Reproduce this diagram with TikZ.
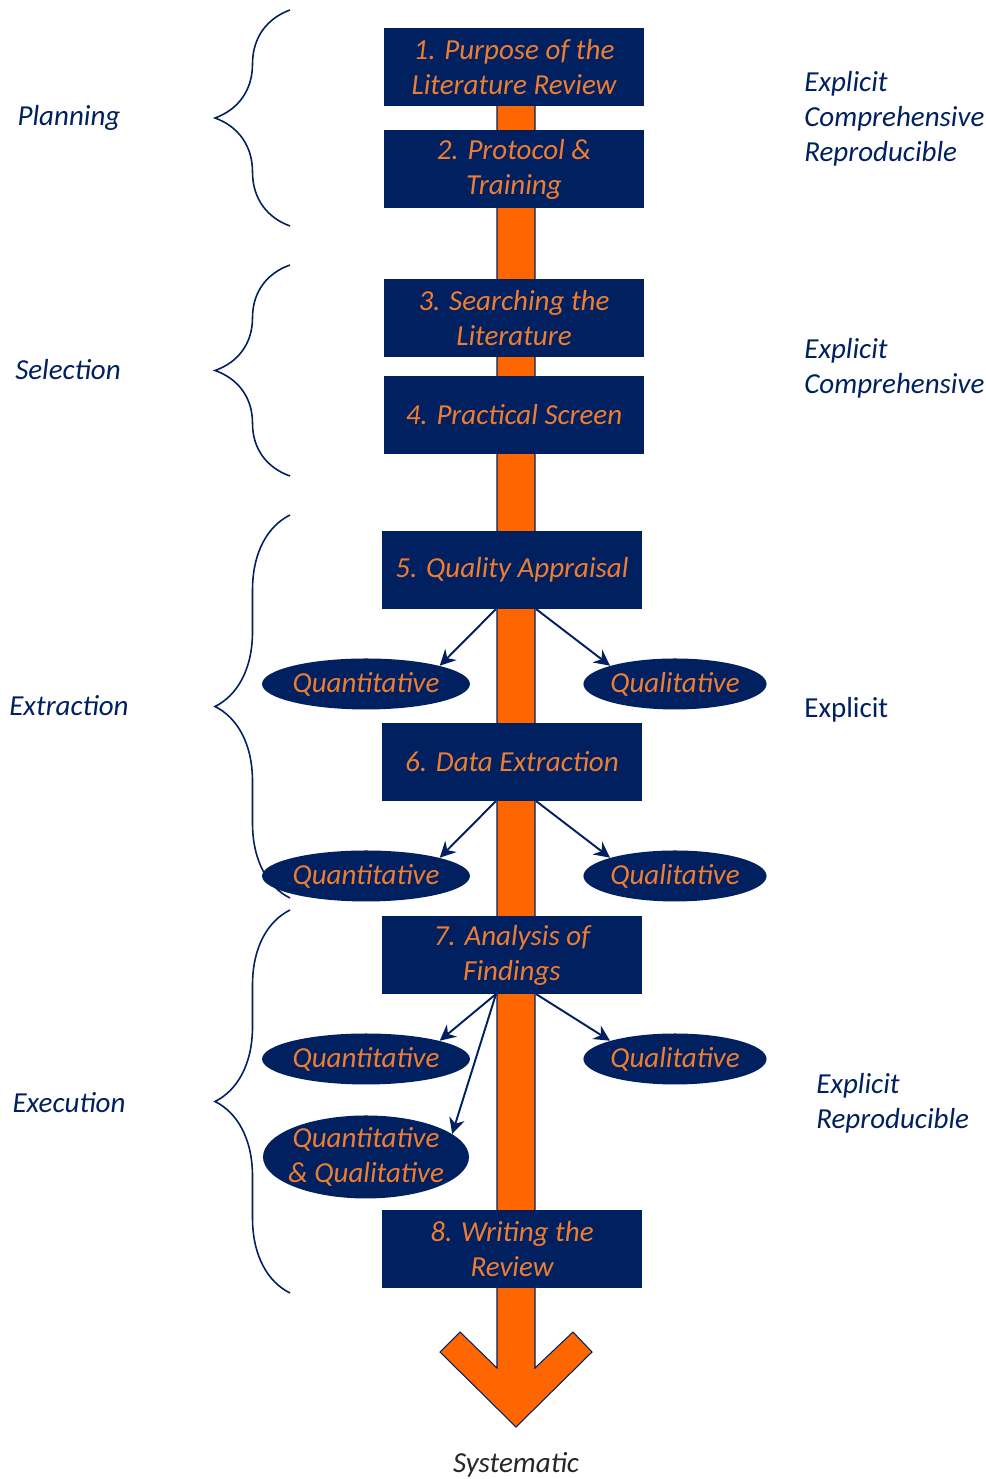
\documentclass[tikz,border=0pt]{standalone}
\usepackage{fontspec}
\setmainfont{Carlito}
\usetikzlibrary{shapes.geometric,arrows.meta,positioning,decorations.pathreplacing}
\definecolor{navy}{HTML}{002060}
\definecolor{barorange}{HTML}{FF6600}
\definecolor{txtorange}{HTML}{ED7D31}
\definecolor{sysgray}{HTML}{262626}
\newcommand{\labelfont}{\fontsize{16.5}{20}\selectfont}

\begin{document}
\begin{tikzpicture}[
    x=0.02cm, y=-0.02cm,
    % --- STYLES ---
    stage/.style={
        rectangle, fill=navy, draw=none,
        minimum width=5.2cm,
        minimum height=1.56cm,
        align=center, text=txtorange,
        font=\itshape\labelfont,
        inner sep=2pt, outer sep=0pt
    },
    kind/.style={
        ellipse, fill=navy, draw=none,
        text=txtorange, font=\itshape\labelfont,
        inner sep=0pt, minimum height=1.02cm
    },
    phase/.style={text=navy, font=\itshape\labelfont, inner sep=0pt},
    quality/.style={text=navy, font=\itshape\labelfont, align=left, anchor=west, inner sep=0pt},
    branch/.style={-{Stealth[length=9pt,width=9pt]}, draw=navy, line width=1.1pt},
    grouping/.style={decorate, decoration={brace, amplitude=1.5cm}, draw=navy, line width=0.9pt},
    spine/.style={fill=barorange, draw=navy, line width=0.6pt}
]
\useasboundingbox (0,0) rectangle (986,1479);

% ===== 1. COORDINATES =====
\def\xQuan{366}
\def\xQual{675}

% ===== 2. ORANGE SPINE =====
\draw[spine] (497,100) -- (497,1368) -- (460,1332) -- (440,1352) -- (516,1427)
    -- (592,1352) -- (573,1332) -- (535,1368) -- (535,100) -- cycle;

% ===== 3. STAGES =====
\node[stage] (p1) at (514,67) {1. Purpose of the\\ Literature Review};
\node[stage] (p2) at (514,169) {2. Protocol \&\\ Training};
\node[stage] (p3) at (514,318) {3. Searching the\\ Literature};
\node[stage] (p4) at (514,415) {4. Practical Screen};
\node[stage] (p5) at (512,570) {5. Quality Appraisal};
\node[stage] (p6) at (512,762) {6. Data Extraction};
\node[stage] (p7) at (512,955) {7. Analysis of\\ Findings};
\node[stage] (p8) at (512,1249) {8. Writing the\\ Review};

% ===== 4. METHOD ELLIPSES =====
\node[kind, minimum width=4.08cm] (quan5) at (\xQuan, 0 |- p5.south) [yshift=-1.5cm] {Quantitative};
\node[kind, minimum width=3.48cm] (qual5) at (\xQual, 0 |- p5.south) [yshift=-1.5cm] {Qualitative};

\node[kind, minimum width=4.08cm] (quan6) at (\xQuan, 0 |- p6.south) [yshift=-1.5cm] {Quantitative};
\node[kind, minimum width=3.48cm] (qual6) at (\xQual, 0 |- p6.south) [yshift=-1.5cm] {Qualitative};

\node[kind, minimum width=4.08cm] (quan7) at (\xQuan, 0 |- p7.south) [yshift=-1.3cm] {Quantitative};
\node[kind, minimum width=3.48cm] (qual7) at (\xQual, 0 |- p7.south) [yshift=-1.3cm] {Qualitative};
\node[kind, minimum width=4.12cm, minimum height=1.66cm,
      label={[text=txtorange, font=\itshape\labelfont, align=center]center:Quantitative\\ \& Qualitative}]
      (mixed7) at (\xQuan, 0 |- p7.south) [yshift=-3.26cm] {};

% ===== 5. BRACES & PHASES =====
\draw[grouping] (290,226) -- (290,10);
\draw[grouping] (290,476) -- (290,265);
\draw[grouping] (290,898) -- (290,515);
\draw[grouping] (290,1293) -- (290,910);

\node[phase] (planning) at (69,118) {Planning};
\node[phase] (selection) at (68,370) {Selection};
\node[phase] (extraction) at (69,706) {Extraction};
\node[phase] (execution) at (69,1103) {Execution};

% ===== 6. QUALITIES =====
\node[quality] (crit1) at (804,119) {Explicit\\ Comprehensive\\ Reproducible};
\node[quality] (crit2) at (804,368) {Explicit\\ Comprehensive};
\node[quality, font=\labelfont] (crit3) at (804,710) {Explicit};
\node[quality] (crit4) at (816,1103) {Explicit\\ Reproducible};

\node[text=sysgray, font=\itshape\labelfont] (systematic) at (516,1465) {Systematic};

% ===== 7. CONNECTIONS =====
\draw[branch] ([xshift=-0.32cm]p5.south) -- (quan5.north east);
\draw[branch] ([xshift=0.48cm]p5.south) -- (qual5.north west);

\draw[branch] ([xshift=-0.32cm]p6.south) -- (quan6.north east);
\draw[branch] ([xshift=0.48cm]p6.south) -- (qual6.north west);

\draw[branch] ([xshift=-0.32cm]p7.south) -- (quan7.north east);
\draw[branch] ([xshift=-0.32cm]p7.south) -- (mixed7.15);
\draw[branch] ([xshift=0.48cm]p7.south) -- (qual7.north west);

\end{tikzpicture}
\end{document}
